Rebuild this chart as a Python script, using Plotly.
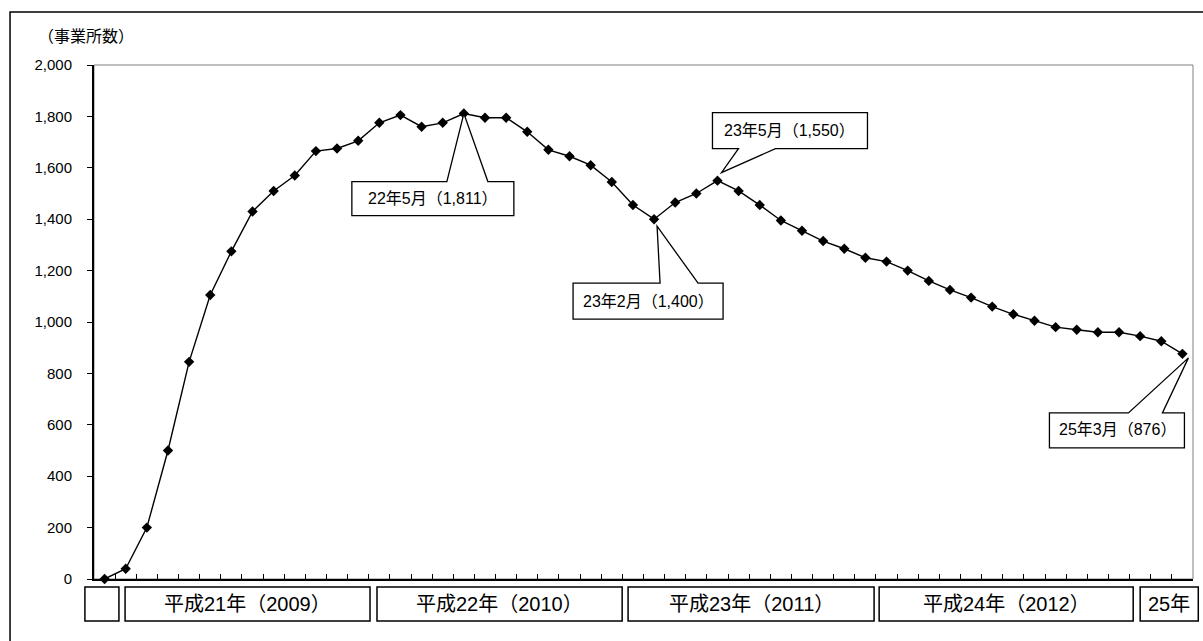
import plotly.graph_objects as go

# Monthly count of establishments, from H20/12 through H25/3 (52 months)
months_idx = list(range(52))
counts = [
    0, 40, 200, 500, 845, 1105, 1275, 1430, 1510, 1570, 1665, 1675, 1705,
    1775, 1805, 1760, 1775, 1811, 1795, 1795, 1740, 1670, 1645, 1610, 1545,
    1455, 1400, 1465, 1500, 1550, 1510, 1455, 1395, 1355, 1315, 1285, 1250,
    1235, 1200, 1160, 1125, 1095, 1060, 1030, 1005, 980, 970, 960, 960,
    945, 925, 876,
]

# Callouts: (month index, label)
callout_idx = [17, 26, 29, 51]
callout_text = ["22年5月（1,811）", "23年2月（1,400）", "23年5月（1,550）", "25年3月（876）"]

# Year strip below the axis: label and span in category units
year_labels = ["", "平成21年（2009）", "平成22年（2010）", "平成23年（2011）", "平成24年（2012）", "25年"]
year_spans = [(-0.93, 0.68), (0.97, 12.56), (12.89, 24.49), (24.77, 36.41), (36.65, 48.67), (49.0, 51.75)]

FONT = 'Liberation Sans, "Noto Sans CJK JP", sans-serif'

N_CAT = len(months_idx)
PLOT_H = 514  # plot-area height in px


def cat_to_paper(c):
    return (c + 0.5) / N_CAT


fig = go.Figure()
fig.add_trace(go.Scatter(
    x=months_idx, y=counts, mode="lines+markers",
    line=dict(color="black", width=1.4),
    marker=dict(symbol="diamond", size=8, color="black"),
    cliponaxis=False, showlegend=False, hoverinfo="skip",
))

shapes = []
annotations = []

# Plot-area frame (grey) and outer chart frame (black)
shapes.append(dict(type="rect", xref="paper", yref="paper", x0=0, x1=1, y0=0, y1=1,
                   line=dict(color="#808080", width=1), layer="below"))
shapes.append(dict(type="rect", xref="paper", yref="paper", x0=-0.0764, x1=1.3, y0=-0.4, y1=1.103,
                   line=dict(color="black", width=1.5), layer="below"))

# Callout outlines in pixel offsets from their data point (box + pointer)
callout_paths = [
    "M -112,-68 L -17,-68 L 0,0 L 24,-68 L 50,-68 L 50,-102 L -112,-102 Z",
    "M -81,-64 L 6,-64 L 3,-7 L 44,-64 L 69,-64 L 69,-100 L -81,-100 Z",
    "M -5,32 L 21,32 L 4,8 L 58,32 L 150,32 L 150,68 L -5,68 Z",
    "M -133,-59 L -54,-59 L 6,-4 L -20,-59 L 2,-59 L 2,-94 L -133,-94 Z",
]
callout_text_offset = [(-31, -85), (-6, -82), (72, 50), (-65, -76)]

for i, lab, path, (dx, dy) in zip(callout_idx, callout_text, callout_paths, callout_text_offset):
    shapes.append(dict(type="path", xref="x", yref="y",
                       xsizemode="pixel", ysizemode="pixel",
                       xanchor=i, yanchor=counts[i], path=path,
                       fillcolor="white", line=dict(color="black", width=1.3),
                       layer="above"))
    annotations.append(dict(x=i, y=counts[i], xref="x", yref="y", text=lab,
                            showarrow=False, xshift=dx, yshift=dy,
                            xanchor="center", yanchor="middle",
                            font=dict(family=FONT, size=16, color="black")))

# Year strip boxes and labels (below the plot area, so in paper units)
box_top = -8 / PLOT_H
box_bot = -42 / PLOT_H
for lab, (a, b) in zip(year_labels, year_spans):
    shapes.append(dict(type="rect", xref="paper", yref="paper",
                       x0=cat_to_paper(a), x1=cat_to_paper(b), y0=box_bot, y1=box_top,
                       line=dict(color="black", width=1.5), fillcolor="white"))
    if lab:
        annotations.append(dict(x=cat_to_paper((a + b) / 2), y=(box_top + box_bot) / 2,
                                xref="paper", yref="paper", text=lab,
                                showarrow=False, xanchor="center", yanchor="middle",
                                font=dict(family=FONT, size=20, color="black")))

# Unit label above the y axis
annotations.append(dict(x=(36 - 94) / 1099, y=(579 - 37) / PLOT_H, xref="paper", yref="paper",
                        text="（事業所数）", showarrow=False, xanchor="left", yanchor="middle",
                        font=dict(family=FONT, size=16, color="black")))

fig.update_layout(
    width=1203, height=641,
    margin=dict(l=94, r=10, t=65, b=62),
    paper_bgcolor="white", plot_bgcolor="white",
    shapes=shapes, annotations=annotations,
    font=dict(family=FONT, color="black"),
    xaxis=dict(range=[-0.5, 51.5], tick0=-0.5, dtick=1, ticks="inside", ticklen=5,
               tickcolor="black", showticklabels=False, showgrid=False, zeroline=False,
               showline=True, linecolor="black", linewidth=1.5, fixedrange=True),
    yaxis=dict(range=[0, 2000], dtick=200, tickformat=",", ticks="outside", ticklen=5,
               tickcolor="black", showgrid=False, zeroline=False, showline=True,
               linecolor="black", linewidth=2, ticklabelstandoff=12,
               tickfont=dict(family=FONT, size=15, color="black"), fixedrange=True),
)

fig.write_html("out.html")
